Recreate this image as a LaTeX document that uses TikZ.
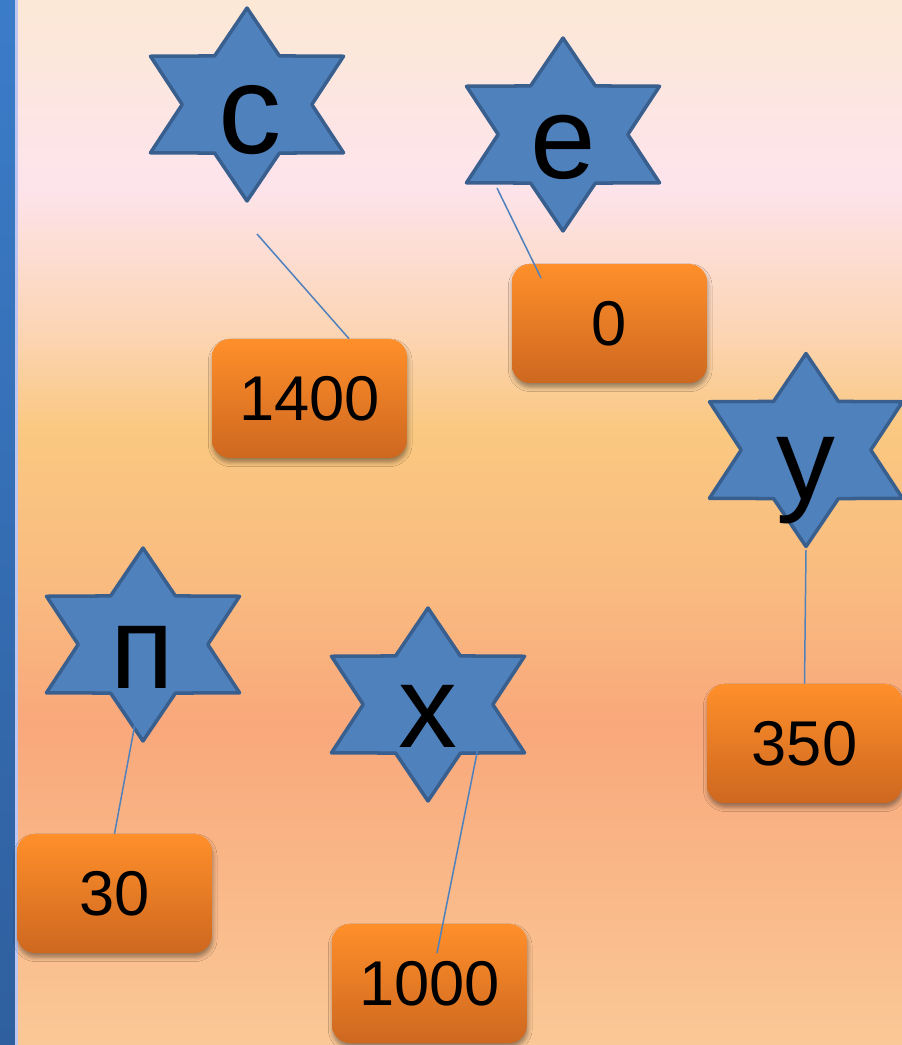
\documentclass[tikz,border=0pt]{standalone}
\usepackage{fontspec}
\setmainfont{Liberation Sans}
\usepackage{xcolor}
\usepackage{tikz}
\usetikzlibrary{shapes,shapes.geometric,shadows.blur,positioning}
\definecolor{starblue}{HTML}{4F81BD}
\definecolor{starrim}{HTML}{395F8F}
\definecolor{boxtop}{HTML}{FF8F2A}
\definecolor{boxbot}{HTML}{CE6820}
\definecolor{bg0}{HTML}{FAC896}
\definecolor{bg1}{HTML}{F9A87B}
\definecolor{bg2}{HTML}{F9BB80}
\definecolor{bg3}{HTML}{FAC880}
\definecolor{bg4}{HTML}{FCD5B5}
\definecolor{bg5}{HTML}{FDE4EC}
\definecolor{bg6}{HTML}{FCE8D5}
\definecolor{bartop}{HTML}{3B7CC9}
\definecolor{barbot}{HTML}{2F5F9E}
\pgfdeclareverticalshading{slidefade}{100bp}{color(0bp)=(bg0); color(25bp)=(bg0); color(40.4bp)=(bg1); color(47bp)=(bg2); color(54.4bp)=(bg3); color(59.2bp)=(bg4); color(66.2bp)=(bg5); color(75bp)=(bg6); color(100bp)=(bg6)}
\tikzset{hexstar/.style={star,star points=6,star point ratio=1.72,minimum size=3.86cm,inner sep=0pt,xscale=1.155,fill=starblue,draw=starrim,line width=2pt,line join=round},
  valbox/.style={rectangle,rounded corners=0.36cm,minimum width=3.9cm,minimum height=2.38cm,top color=boxtop,bottom color=boxbot,font=\fontsize{36}{40}\selectfont,inner sep=0pt,blur shadow={shadow xshift=0.4pt,shadow yshift=-2.4pt,shadow blur radius=2.5pt,shadow opacity=40}},
  letter/.style={font=\fontsize{67}{80}\selectfont,inner sep=0pt,anchor=base},}
\tikzstyle{link} = [draw=starblue,line width=0.85pt]

\begin{document}
\begin{tikzpicture}[x=0.02cm,y=-0.02cm]
    \useasboundingbox (0,0) rectangle (902,1045);
    \shade[shading=slidefade] (0,0) rectangle (902,1045);
    \shade[top color=bartop,bottom color=barbot] (0,0) rectangle (15,1045);
    \fill[color=blue!15!white!80!starblue] (15,0) rectangle (17.5,1045);

    % stars
    \node[hexstar] (starC) at (247,104.5) {};
    \node[hexstar] (starE) at (563,134.5) {};
    \node[hexstar] (starY) at (806,450) {};
    \node[hexstar] (starP) at (143,644.5) {};
    \node[hexstar] (starX) at (428,704.5) {};
    \node[letter,font=\fontsize{72}{80}\selectfont] (letC) at (250,153) {с};
    \node[letter] (letE) at (563,178) {е};
    \node[letter] (letY) at (806,499) {у};
    \node[letter] (letP) at (142.5,688) {п};
    \node[letter] (letX) at (428,747) {х};

    % values
    \node[valbox] (n1400) at (309.5,398.5) {1400};
    \node[valbox] (n0) at (609.5,323.5) {0};
    \node[valbox] (n350) at (804.5,743.5) {350};
    \node[valbox] (n30) at (114.5,893.5) {30};
    \node[valbox] (n1000) at (429.5,983.5) {1000};

    \draw [link] ([shift={(10,129.5)}]starC.center) -- ([shift={(39.5,0)}]n1400.north);
    \draw [link] ([shift={(-66,53.5)}]starE.center) -- ([shift={(-68.5,-45.5)}]n0.center);
    \draw [link] (starY.south) -- (n350.north);
    \draw [link] ([shift={(-6,68.5)}]starP.center) -- (n30.north);
    \draw [link] ([shift={(54,23.5)}]starX.center) -- ([shift={(7.5,-30.5)}]n1000.center);
\end{tikzpicture}
\end{document}
